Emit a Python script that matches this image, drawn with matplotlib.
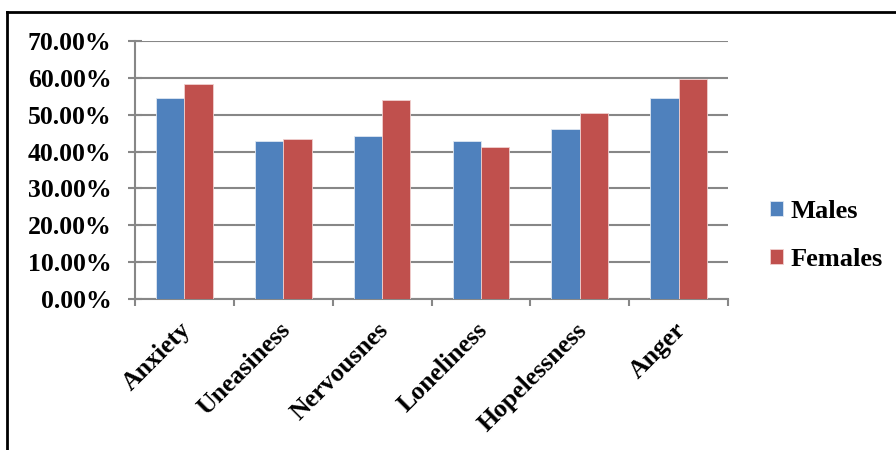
import numpy as np
import matplotlib.pyplot as plt
from matplotlib.lines import Line2D
from matplotlib.ticker import FuncFormatter

# Data (fraction of respondents)
categories = ['Anxiety', 'Uneasiness', 'Nervousnes', 'Loneliness', 'Hopelessness', 'Anger']
males = [0.546, 0.430, 0.443, 0.430, 0.460, 0.546]
females = [0.583, 0.434, 0.541, 0.413, 0.504, 0.596]
yticks = [0.0, 0.1, 0.2, 0.3, 0.4, 0.5, 0.6, 0.7]

blue = '#4F81BD'
red = '#C0504D'
grey = '#878787'

plt.rcParams['font.family'] = ['Liberation Serif', 'DejaVu Serif']
plt.rcParams['font.weight'] = 'bold'

fig = plt.figure(figsize=(8.96, 4.5), dpi=100)
ax = fig.add_axes([0.1507, 0.3356, 0.6618, 0.5733])

x = np.arange(len(categories))
w = 0.287
ax.bar(x - w/2, males, w, color=blue, edgecolor='#dfe7f2', linewidth=0.6, label='Males', zorder=3)
ax.bar(x + w/2, females, w, color=red, edgecolor='#f0d0cf', linewidth=0.6, label='Females', zorder=3)

# Axes and grid
ax.set_xlim(-0.5, len(categories) - 0.5)
ax.set_ylim(0, 0.7)
ax.set_yticks(yticks)
ax.yaxis.set_major_formatter(FuncFormatter(lambda v, p: '{:.2f}%'.format(v*100)))
ax.grid(axis='y', color=grey, linewidth=1.5, zorder=0)
for s in ['top', 'right']:
	ax.spines[s].set_visible(False)
for s in ['left', 'bottom']:
	ax.spines[s].set_color(grey)
	ax.spines[s].set_linewidth(1.5)

# category boundaries as x ticks
ax.set_xticks(np.arange(len(categories) + 1) - 0.5)
ax.set_xticklabels([])
ax.tick_params(axis='x', direction='out', length=5, width=1.5, color=grey)
ax.tick_params(axis='y', direction='inout', length=10, width=1.5, color=grey, labelsize=18.5, pad=12)
for lbl in ax.get_yticklabels():
	lbl.set_fontweight('bold')

for i, c in enumerate(categories):
	ax.text(i - 0.05, -0.075, c, rotation=45, ha='right', va='top', rotation_mode='anchor',
		transform=ax.get_xaxis_transform(), fontsize=18.5, fontweight='bold')

# Legend
ax.legend(loc='center left', bbox_to_anchor=(1.03, 0.245), frameon=False,
	handlelength=0.5, handleheight=0.5, handletextpad=0.3, labelspacing=0.95,
	prop={'weight': 'bold', 'size': 19})

# outer frame of the chart box
fig.add_artist(Line2D([7/896, 7/896], [0, 1 - 12/450], color='black', linewidth=2))
fig.add_artist(Line2D([7/896, 1], [1 - 12/450, 1 - 12/450], color='black', linewidth=2))

plt.savefig('out.png', dpi=100)
